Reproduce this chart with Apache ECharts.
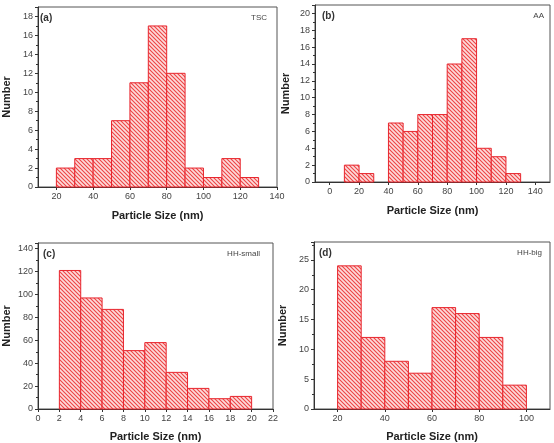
<!DOCTYPE html>
<html><head><meta charset="utf-8">
<script src="https://cdn.jsdelivr.net/npm/echarts@6/dist/echarts.min.js"></script>
<style>html,body{margin:0;padding:0;background:#fff}#c{width:554px;height:443px}</style>
</head><body><div id="c"></div>
<script>
// Panel (a) TSC
const binStartA = [20,30,40,50,60,70,80,90,100,110,120];
const countsA   = [2,3,3,7,11,17,12,2,1,3,1];
const xTicksA   = [20,40,60,80,100,120,140];
// Panel (b) AA
const binStartB = [10,20,30,40,50,60,70,80,90,100,110,120];
const countsB   = [2,1,0,7,6,8,8,14,17,4,3,1];
const xTicksB   = [0,20,40,60,80,100,120,140];
// Panel (c) HH-small
const binStartC = [2,4,6,8,10,12,14,16,18];
const countsC   = [121,97,87,51,58,32,18,9,11];
const xTicksC   = [0,2,4,6,8,10,12,14,16,18,20,22];
// Panel (d) HH-big
const binStartD = [20,30,40,50,60,70,80,90];
const countsD   = [24,12,8,6,17,16,12,4];
const xTicksD   = [20,40,60,80,100];
const binWidths = [10,10,2,10];
const panelTags = ['(a)','(b)','(c)','(d)'];
const panelNames = ['TSC','AA','HH-small','HH-big'];
const xTitle = 'Particle Size (nm)';
const yTitle = 'Number';

const pc = document.createElement('canvas');
pc.width = 4; pc.height = 4;
const g = pc.getContext('2d');
g.fillStyle = '#fcdcdc'; g.fillRect(0,0,4,4);
g.strokeStyle = '#ee4444'; g.lineWidth = 1.1;
g.beginPath();
g.moveTo(-1,-1); g.lineTo(5,5);
g.moveTo(-1,3); g.lineTo(1,5);
g.moveTo(3,-1); g.lineTo(5,1);
g.stroke();
const hatch = {image: pc, repeat: 'repeat'};

const grids = [
  {left:35, top:7, width:242, height:180},
  {left:315, top:5, width:235, height:177},
  {left:37, top:243, width:236, height:174},
  {left:314, top:242, width:236, height:175}
];
const xRange = [[10,140],[-10,150],[0,22],[10,110]];
const xTicks = [xTicksA,xTicksB,xTicksC,xTicksD];
const yCfg = [
  {max:19,interval:2},{max:21,interval:2},{max:145,interval:20},{max:28,interval:5}
];
const starts = [binStartA,binStartB,binStartC,binStartD];
const counts = [countsA,countsB,countsC,countsD];

const FONT = 'Liberation Sans';
const labelStyle = {color:'#444', fontSize:9, fontFamily:FONT};
const option = {
  animation:false,
  grid: grids.map(g => Object.assign({show:true, borderColor:'#555', borderWidth:1, backgroundColor:'transparent'}, g)),
  xAxis: xRange.map((r,i)=>({
    type:'value', gridIndex:i, min:r[0], max:r[1],
    name:xTitle, nameLocation:'middle', nameGap: i<2 ? 23 : 22,
    nameTextStyle:{fontSize:11, fontWeight:'bold', color:'#222', fontFamily:FONT},
    axisLine:{show:true, onZero:false, lineStyle:{color:'#333'}},
    axisTick:{show:true, length:3, customValues:xTicks[i], lineStyle:{color:'#333'}},
    splitLine:{show:false},
    axisLabel:Object.assign({customValues:xTicks[i], margin:5}, labelStyle)
  })),
  yAxis: yCfg.map((c,i)=>({
    type:'value', gridIndex:i, min:0, max:c.max, interval:c.interval,
    name:yTitle, nameLocation:'middle', nameGap: i===1 ? 24 : 26,
    nameTextStyle:{fontSize:11, fontWeight:'bold', color:'#222', fontFamily:FONT},
    axisLine:{show:true, onZero:false, lineStyle:{color:'#333'}},
    axisTick:{show:true, length:3, lineStyle:{color:'#333'}},
    minorTick:{show:true, splitNumber:2, length:2, lineStyle:{color:'#333'}},
    splitLine:{show:false},
    axisLabel:Object.assign({showMaxLabel:false, margin:5}, labelStyle)
  })),
  title: [],
  series: counts.map((arr,i)=>({
    type:'custom', xAxisIndex:i, yAxisIndex:i,
    data: arr.map((v,k)=>[starts[i][k], starts[i][k]+binWidths[i], v]).filter(d=>d[2]>0),
    renderItem:(params, api)=>{
      const p0 = api.coord([api.value(0), api.value(2)]);
      const p1 = api.coord([api.value(1), 0]);
      return {type:'rect', shape:{x:p0[0], y:p0[1], width:p1[0]-p0[0], height:p1[1]-p0[1]},
        style:{fill:hatch, stroke:'#e8252d', lineWidth:1}};
    }
  }))
};
const tagPos = [[40,13],[322,11],[43,249],[319,248]];
const namePos = [[267,13],[544,11],[260,249],[542,248]];
tagPos.forEach((p,i)=>{
  option.title.push({text:panelTags[i], left:p[0], top:p[1], padding:0,
    textStyle:{fontSize:10, fontWeight:'bold', color:'#333', fontFamily:FONT}});
});
namePos.forEach((p,i)=>{
  option.title.push({text:panelNames[i], right:554-p[0], top:p[1]+1, padding:0,
    textStyle:{fontSize:8, fontWeight:'normal', color:'#444', fontFamily:FONT}});
});
const chart = echarts.init(document.getElementById('c'), null, {renderer:'canvas'});
chart.setOption(option);
</script></body></html>
